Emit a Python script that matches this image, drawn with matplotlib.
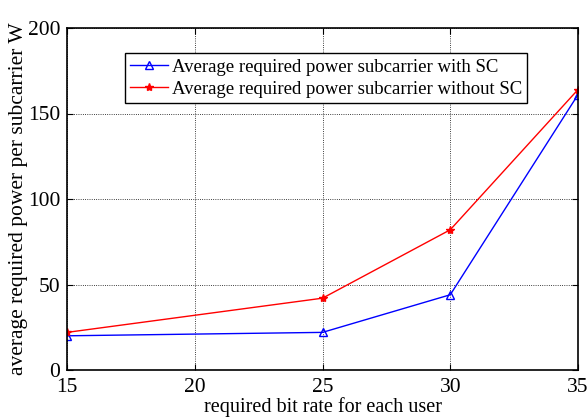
import matplotlib
matplotlib.use('Agg')
import matplotlib.pyplot as plt

plt.rcParams['font.family'] = ['Liberation Serif', 'DejaVu Serif']

bit_rate = [15, 25, 30, 35]
power_with_sc = [20, 22, 44, 161]
power_without_sc = [22, 42, 82, 164]

fig = plt.figure(figsize=(5.88, 4.17), dpi=100)
ax = fig.add_axes([67/588, 1 - 370/417, 511/588, 342/417])

ax.plot(bit_rate, power_with_sc, color='blue', lw=1, marker='^', markersize=6,
        markerfacecolor='none', markeredgecolor='blue',
        label='Average required power subcarrier with SC')
ax.plot(bit_rate, power_without_sc, color='red', lw=1, marker='*', markersize=6,
        label='Average required power subcarrier without SC')

ax.set_xlim(15, 35)
ax.set_ylim(0, 200)
ax.set_xticks([15, 20, 25, 30, 35])
ax.set_yticks([0, 50, 100, 150, 200])
ax.tick_params(direction='in', top=True, right=True, labelsize=15.5, length=4)
ax.tick_params(axis='x', pad=6)
ax.tick_params(axis='y', pad=5)
ax.grid(True, color='black', linestyle=':', linewidth=0.6)
for s in ax.spines.values():
    s.set_linewidth(1.2)

ax.set_xlabel('required bit rate for each user', fontsize=14.5, labelpad=0)
ax.set_ylabel('average required power per subcarrier W', fontsize=15.5, labelpad=0)

leg = ax.legend(loc='upper left', bbox_to_anchor=(0.113, 0.927), fontsize=13.5,
                fancybox=False, framealpha=1, edgecolor='black',
                handlelength=2.0, handletextpad=0.2, borderpad=0.3,
                labelspacing=0.25, borderaxespad=0)
leg.get_frame().set_linewidth(1)

fig.savefig('out.png', dpi=100)
